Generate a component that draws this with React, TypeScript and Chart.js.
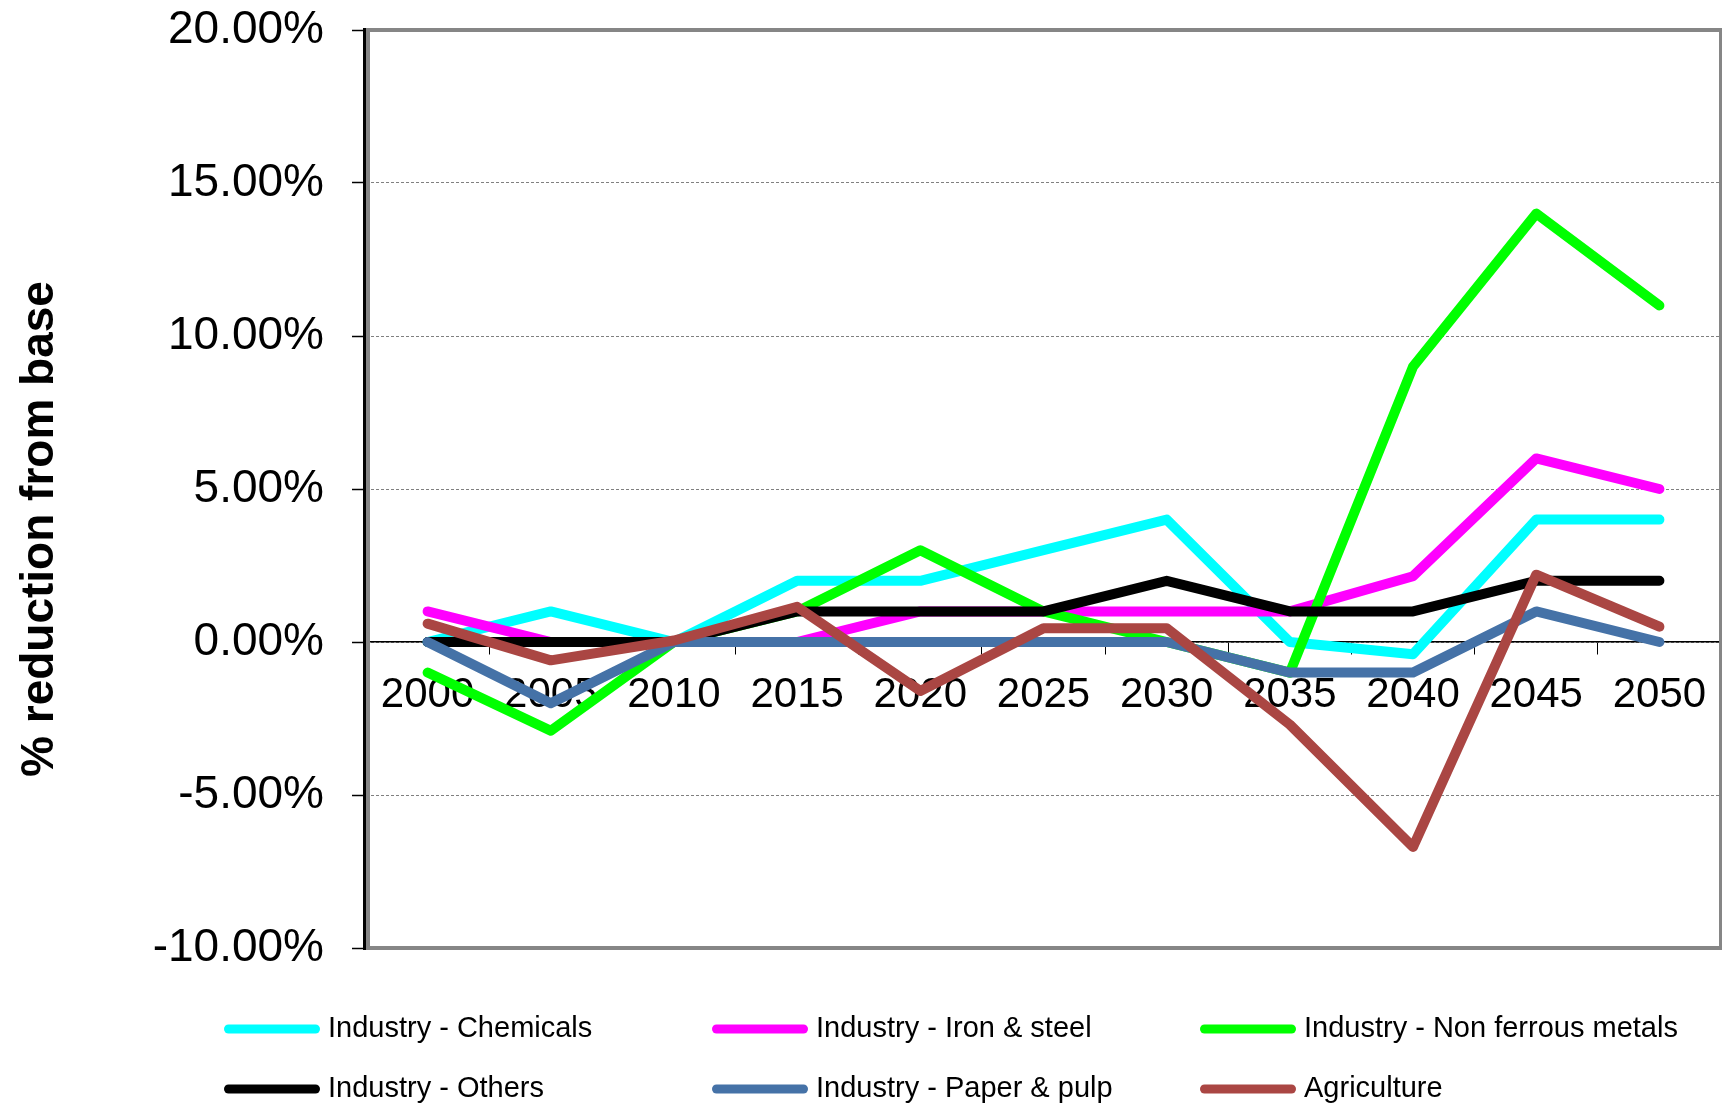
import React, { useEffect, useRef } from 'react';
import { Chart, registerables } from 'chart.js';

Chart.register(...registerables);

const FONT = '"Liberation Sans", Arial, Helvetica, sans-serif';

// ---- data ----
const years = ['2000', '2005', '2010', '2015', '2020', '2025', '2030', '2035', '2040', '2045', '2050'];
const yTickValues = [-10, -5, 0, 5, 10, 15, 20];

const chemicals = [0, 1, 0, 2, 2, 3, 4, 0, -0.4, 4, 4];
const ironSteel = [1, 0, 0, 0, 1, 1, 1, 1, 2.15, 6, 5];
const nonFerrous = [-1, -2.9, 0, 1, 3, 1, 0, -1, 9, 14, 11];
const others = [0, 0, 0, 1, 1, 1, 2, 1, 1, 2, 2];
const paperPulp = [0, -2, 0, 0, 0, 0, 0, -1, -1, 1, 0];
const agriculture = [0.6, -0.6, 0.05, 1.15, -1.6, 0.45, 0.45, -2.7, -6.7, 2.2, 0.5];

const seriesNames = [
  'Industry - Chemicals',
  'Industry - Iron & steel',
  'Industry - Non ferrous metals',
  'Industry - Others',
  'Industry - Paper & pulp',
  'Agriculture',
];
const seriesValues = [chemicals, ironSteel, nonFerrous, others, paperPulp, agriculture];
const seriesColors = ['#00FFFF', '#FF00FF', '#00FF00', '#000000', '#4572A7', '#AA4643'];

const yTitle = '% reduction from base';

// ---- plugins ----
const framePlugin = {
  id: 'frame',
  beforeDatasetsDraw(chart: any) {
    const { ctx, chartArea: a } = chart;
    ctx.save();
    ctx.strokeStyle = '#868686';
    ctx.lineWidth = 4;
    ctx.strokeRect(a.left + 2, a.top, a.right - a.left - 2, a.bottom - a.top);
    ctx.fillStyle = '#000';
    ctx.fillRect(a.left - 3, a.top - 2, 3, a.bottom - a.top + 4);
    ctx.restore();
  },
};

const titlePlugin = {
  id: 'yTitle',
  afterDraw(chart: any) {
    const { ctx, chartArea: a } = chart;
    ctx.save();
    ctx.translate(53, (a.top + a.bottom) / 2 + 40);
    ctx.rotate(-Math.PI / 2);
    ctx.font = `bold 46px ${FONT}`;
    ctx.fillStyle = '#000';
    ctx.textAlign = 'center';
    ctx.textBaseline = 'alphabetic';
    ctx.fillText(yTitle, 0, 0);
    ctx.restore();
  },
};

const legendPlugin = {
  id: 'gridLegend',
  afterDraw(chart: any) {
    const { ctx } = chart;
    chart.data.datasets.forEach((ds: any, i: number) => {
      const col = i % 3;
      const row = Math.floor(i / 3);
      const x0 = 224 + col * 488;
      const y = 1029 + row * 60;
      ctx.save();
      ctx.strokeStyle = ds.borderColor;
      ctx.lineWidth = 9;
      ctx.lineCap = 'round';
      ctx.beginPath();
      ctx.moveTo(x0 + 4.5, y);
      ctx.lineTo(x0 + 91.5, y);
      ctx.stroke();
      ctx.fillStyle = '#000';
      ctx.font = `29px ${FONT}`;
      ctx.textAlign = 'left';
      ctx.textBaseline = 'middle';
      ctx.fillText(ds.label, x0 + 104, y);
      ctx.restore();
    });
  },
};

export default function App() {
  const canvasRef = useRef<HTMLCanvasElement | null>(null);

  useEffect(() => {
    if (!canvasRef.current) return;
    document.body.style.overflow = 'hidden';
    Chart.defaults.font.family = FONT;

    const n = seriesNames.length;
    const chart = new Chart(canvasRef.current, {
      type: 'line',
      data: {
        labels: years,
        datasets: seriesNames.map((name, i) => ({
          label: name,
          data: seriesValues[i],
          borderColor: seriesColors[i],
          backgroundColor: seriesColors[i],
          borderWidth: 10,
          borderJoinStyle: 'round' as const,
          borderCapStyle: 'round' as const,
          pointRadius: 0,
          pointHoverRadius: 0,
          tension: 0,
          fill: false,
          order: n - i,
        })),
      },
      options: {
        animation: false,
        responsive: true,
        maintainAspectRatio: false,
        layout: { padding: { top: 30, right: 1, bottom: 156, left: 0 } },
        plugins: {
          legend: { display: false },
          tooltip: { enabled: false },
          title: { display: false },
        },
        scales: {
          x: {
            type: 'category',
            position: { y: 0 } as any,
            offset: true,
            grid: {
              offset: true,
              drawOnChartArea: false,
              drawTicks: true,
              tickLength: 12,
              tickColor: '#000',
              tickWidth: 1,
            },
            border: { display: true, color: '#000', width: 1.5 },
            ticks: {
              font: { size: 42, family: FONT },
              color: '#000',
              padding: 16,
              maxRotation: 0,
              autoSkip: false,
            },
            afterFit: (s: any) => {
              s.height = 0;
              s.paddingLeft = 0;
              s.paddingRight = 0;
            },
          },
          y: {
            type: 'linear',
            position: 'left',
            min: -10,
            max: 20,
            afterBuildTicks: (s: any) => {
              s.ticks = yTickValues.map((v) => ({ value: v }));
            },
            ticks: {
              stepSize: 5,
              callback: (v: any) => Number(v).toFixed(2) + '%',
              font: { size: 46, family: FONT },
              color: '#000',
              padding: 28,
            },
            grid: {
              color: '#808080',
              lineWidth: 1,
              drawTicks: true,
              tickLength: 14,
              tickColor: '#000',
              tickWidth: 1.5,
              tickBorderDash: [],
            },
            border: { display: false, dash: [3, 2] },
            afterFit: (s: any) => {
              s.width = 366;
              s.paddingTop = 0;
              s.paddingBottom = 0;
            },
          },
        },
      },
      plugins: [framePlugin, titlePlugin, legendPlugin],
    });
    return () => chart.destroy();
  }, []);

  return (
    <div style={{ position: 'absolute', left: 0, top: 0, width: 1722, height: 1104, background: '#fff' }}>
      <canvas ref={canvasRef} />
    </div>
  );
}
